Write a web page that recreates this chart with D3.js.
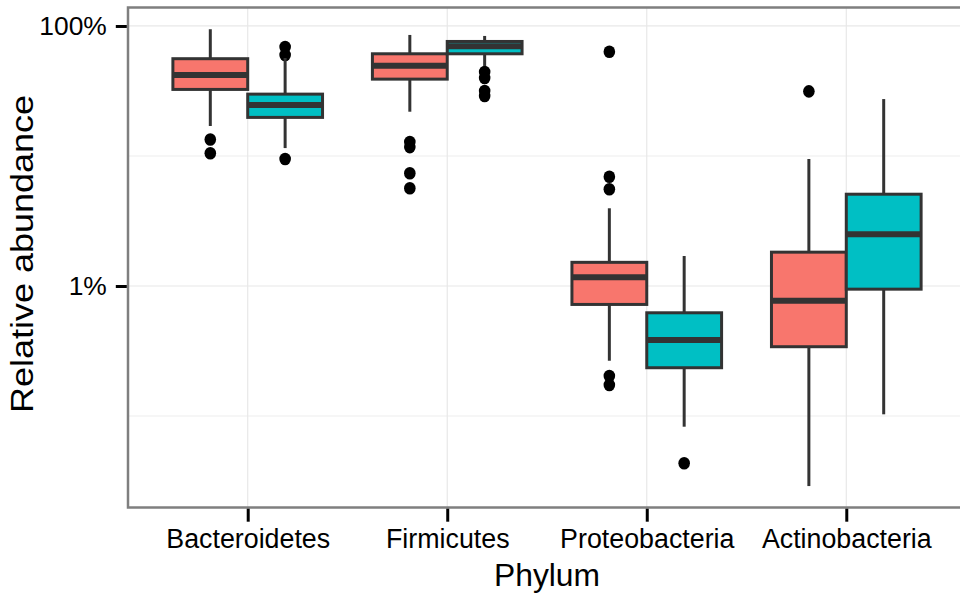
<!DOCTYPE html>
<html>
<head>
<meta charset="utf-8">
<script src="https://cdn.jsdelivr.net/npm/d3@7"></script>
<style>
  html, body { margin: 0; padding: 0; background: #fff; }
  svg { display: block; }
  text { font-family: "Liberation Sans", Arial, Helvetica, sans-serif; }
</style>
</head>
<body>
<script>
// ---- data (values in percent) ----
const categories = ["Bacteroidetes", "Firmicutes", "Proteobacteria", "Actinobacteria"];
const groups = ["group1", "group2"];
const groupColors = ["#F8766D", "#00BFC4"];

// group1 (red)
const g1Low    = [17.0, 21.9, 0.266, 0.0289];
const g1Q1     = [32.5, 39.0, 0.721, 0.341];
const g1Median = [42.0, 49.5, 1.166, 0.771];
const g1Q3     = [56.0, 61.1, 1.52, 1.82];
const g1High   = [94.4, 85.3, 3.96, 9.48];
const g1Outliers = [[13.4, 10.5], [12.8, 11.7, 7.36, 5.64], [63.4, 6.93, 5.54, 0.203, 0.173], [31.4]];

// group2 (teal)
const g2Low    = [11.5, 49.2, 0.0827, 0.103];
const g2Q1     = [19.8, 61.1, 0.235, 0.945];
const g2Median = [24.7, 69.9, 0.384, 2.50];
const g2Q3     = [29.9, 76.0, 0.622, 5.08];
const g2High   = [56.7, 83.8, 1.70, 27.4];
const g2Outliers = [[68.9, 59.8, 9.48], [44.3, 39.8, 31.6, 28.9], [0.0433], []];

const yTicks = [1, 100];
const yMinor = [0.1, 10];
const yDomain = [0.01977, 138.7];
const xTitle = "Phylum";
const yTitle = "Relative abundance";

// ---- layout ----
const W = 960, H = 596;
const pl = 128, pr = 966, pt = 7.5, pb = 507.5;

const svg = d3.select("body").append("svg").attr("width", W).attr("height", H);

const x = d3.scalePoint().domain(categories).range([pl, pr]).padding(0.6);
const step = x.step();
const xg = d3.scaleBand().domain(groups).range([-step * 0.375, step * 0.375]).paddingInner(0);
const y = d3.scaleLog().domain(yDomain).range([pb, pt]);

// panel background
svg.append("rect").attr("x", pl).attr("y", pt).attr("width", pr - pl).attr("height", pb - pt).attr("fill", "#fff");

// grid
const grid = svg.append("g");
grid.selectAll("line.minor").data(yMinor).join("line")
  .attr("x1", pl).attr("x2", pr).attr("y1", d => y(d)).attr("y2", d => y(d))
  .attr("stroke", "#f6f6f6").attr("stroke-width", 2);
grid.selectAll("line.major").data(yTicks).join("line")
  .attr("x1", pl).attr("x2", pr).attr("y1", d => y(d)).attr("y2", d => y(d))
  .attr("stroke", "#e8e8e8").attr("stroke-width", 1.2);
grid.selectAll("line.vx").data(categories).join("line")
  .attr("x1", d => x(d)).attr("x2", d => x(d)).attr("y1", pt).attr("y2", pb)
  .attr("stroke", "#e8e8e8").attr("stroke-width", 1.2);

// build box records
const series = [
  { g: groups[0], color: groupColors[0], low: g1Low, q1: g1Q1, med: g1Median, q3: g1Q3, high: g1High, out: g1Outliers },
  { g: groups[1], color: groupColors[1], low: g2Low, q1: g2Q1, med: g2Median, q3: g2Q3, high: g2High, out: g2Outliers }
];
const boxes = [];
categories.forEach((c, i) => {
  series.forEach(s => {
    boxes.push({ cat: c, g: s.g, color: s.color, low: s.low[i], q1: s.q1[i], med: s.med[i], q3: s.q3[i], high: s.high[i], out: s.out[i] });
  });
});

const bw = xg.bandwidth();
const stroke = "#333333";
const plot = svg.append("g");
boxes.forEach(b => {
  const cx = x(b.cat) + xg(b.g) + bw / 2;
  const left = x(b.cat) + xg(b.g);
  const gb = plot.append("g");
  // outliers
  gb.selectAll("ellipse").data(b.out).join("ellipse")
    .attr("cx", cx).attr("cy", d => y(d)).attr("rx", 5.8).attr("ry", 6.3).attr("fill", "#000");
  // whiskers
  gb.append("line").attr("x1", cx).attr("x2", cx).attr("y1", y(b.q3)).attr("y2", y(b.high))
    .attr("stroke", stroke).attr("stroke-width", 3);
  gb.append("line").attr("x1", cx).attr("x2", cx).attr("y1", y(b.q1)).attr("y2", y(b.low))
    .attr("stroke", stroke).attr("stroke-width", 3);
  // box
  gb.append("rect").attr("x", left).attr("width", bw)
    .attr("y", y(b.q3)).attr("height", y(b.q1) - y(b.q3))
    .attr("fill", b.color).attr("stroke", stroke).attr("stroke-width", 3);
  // median
  gb.append("line").attr("x1", left).attr("x2", left + bw).attr("y1", y(b.med)).attr("y2", y(b.med))
    .attr("stroke", stroke).attr("stroke-width", 6);
});

// panel border
svg.append("rect").attr("x", pl).attr("y", pt).attr("width", pr - pl).attr("height", pb - pt)
  .attr("fill", "none").attr("stroke", "#7f7f7f").attr("stroke-width", 2.5);

// axes
const yAxis = d3.axisLeft(y).tickValues(yTicks).tickFormat(d => d + "%").tickSize(11).tickPadding(9);
const gy = svg.append("g").attr("transform", `translate(${pl - 1.2},0)`).call(yAxis);
gy.select(".domain").remove();
gy.selectAll(".tick line").attr("stroke", "#000").attr("stroke-width", 3);
gy.selectAll(".tick text").attr("font-size", 26.4).attr("fill", "#000")
  .attr("font-family", "'Liberation Sans', Arial, sans-serif");

const xAxis = d3.axisBottom(x).tickSize(13).tickPadding(7);
const gx = svg.append("g").attr("transform", `translate(0,${pb + 1.2})`).call(xAxis);
gx.select(".domain").remove();
gx.selectAll(".tick line").attr("stroke", "#000").attr("stroke-width", 3);
gx.selectAll(".tick text").attr("font-size", 26.8).attr("fill", "#000")
  .attr("font-family", "'Liberation Sans', Arial, sans-serif");

// titles
svg.append("text").attr("x", (pl + pr) / 2).attr("y", 586).attr("text-anchor", "middle")
  .attr("font-size", 31.8).attr("fill", "#000").text(xTitle);
svg.append("text").attr("transform", `translate(33,254) rotate(-90)`).attr("text-anchor", "middle")
  .attr("font-size", 32).attr("fill", "#000")
  .attr("textLength", 318).attr("lengthAdjust", "spacingAndGlyphs").text(yTitle);
</script>
</body>
</html>
